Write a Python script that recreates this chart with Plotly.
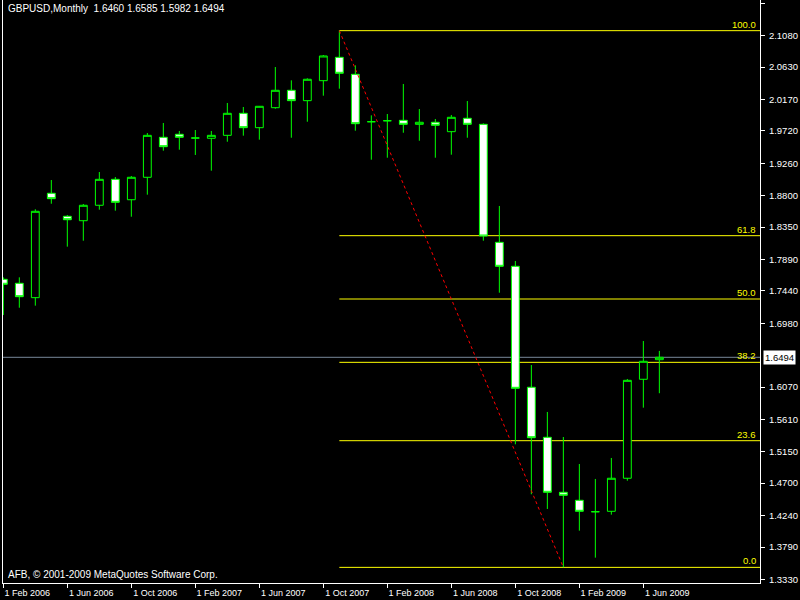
import plotly.graph_objects as go

months = ["Feb 2006","Mar 2006","Apr 2006","May 2006","Jun 2006","Jul 2006","Aug 2006","Sep 2006",
          "Oct 2006","Nov 2006","Dec 2006","Jan 2007","Feb 2007","Mar 2007","Apr 2007","May 2007",
          "Jun 2007","Jul 2007","Aug 2007","Sep 2007","Oct 2007","Nov 2007","Dec 2007","Jan 2008",
          "Feb 2008","Mar 2008","Apr 2008","May 2008","Jun 2008","Jul 2008","Aug 2008","Sep 2008",
          "Oct 2008","Nov 2008","Dec 2008","Jan 2009","Feb 2009","Mar 2009","Apr 2009","May 2009",
          "Jun 2009","Jul 2009"]

open_ = [1.7606, 1.7549, 1.7344, 1.8832, 1.8504, 1.8441, 1.8661, 1.9031, 1.8740, 1.9060, 1.9630,
         1.9673, 1.9620, 1.9616, 1.9658, 1.9972, 1.9767, 2.0052, 2.0300, 2.0152, 2.0437, 2.0770,
         2.0528, 1.9852, 1.9866, 1.9872, 1.9815, 1.9844, 1.9710, 1.9901, 1.9815, 1.8133, 1.7791,
         1.6067, 1.5354, 1.4570, 1.4456, 1.4293, 1.4299, 1.4770, 1.6181, 1.6460]
high = [1.7634, 1.7634, 1.8604, 1.9021, 1.8522, 1.8679, 1.9135, 1.9064, 1.9078, 1.9691, 1.9834,
        1.9720, 1.9734, 1.9720, 2.0119, 2.0062, 2.0076, 2.0632, 2.0442, 2.0471, 2.0803, 2.1150,
        2.0656, 1.9943, 1.9962, 2.0390, 2.0033, 1.9891, 1.9948, 2.0147, 1.9829, 1.8651, 1.7867,
        1.6384, 1.5715, 1.5358, 1.4973, 1.4760, 1.5059, 1.6185, 1.6726, 1.6585]
low = [1.7097, 1.7201, 1.7230, 1.8683, 1.8071, 1.8156, 1.8598, 1.8584, 1.8498, 1.8812, 1.9439,
       1.9453, 1.9378, 1.9154, 1.9567, 1.9653, 1.9596, 2.0037, 1.9624, 1.9852, 2.0223, 2.0323,
       1.9724, 1.9311, 1.9339, 1.9695, 1.9581, 1.9339, 1.9382, 1.9624, 1.8156, 1.7415, 1.5254,
       1.4542, 1.4332, 1.3500, 1.4023, 1.3638, 1.4251, 1.4735, 1.5776, 1.5982]
close = [1.7535, 1.7358, 1.8575, 1.8755, 1.8455, 1.8661, 1.9031, 1.8703, 1.9060, 1.9658, 1.9496,
         1.9630, 1.9620, 1.9658, 1.9972, 1.9767, 2.0072, 2.0300, 2.0152, 2.0457, 2.0789, 2.0542,
         1.9824, 1.9852, 1.9866, 1.9815, 1.9844, 1.9801, 1.9915, 1.9815, 1.8223, 1.7791, 1.6052,
         1.5348, 1.4570, 1.4527, 1.4299, 1.4293, 1.4770, 1.6166, 1.6437, 1.6494]

y_ticks = [1.3330, 1.3790, 1.4240, 1.4700, 1.5150, 1.5610, 1.6070, 1.6980, 1.7440, 1.7890,
           1.8350, 1.8800, 1.9260, 1.9720, 2.0170, 2.0630, 2.1080, 2.1540]
x_tick_idx = [0, 4, 8, 12, 16, 20, 24, 28, 32, 36, 40]
x_tick_text = ["1 Feb 2006", "1 Jun 2006", "1 Oct 2006", "1 Feb 2007", "1 Jun 2007", "1 Oct 2007",
               "1 Feb 2008", "1 Jun 2008", "1 Oct 2008", "1 Feb 2009", "1 Jun 2009"]
fib_levels = [0.0, 23.6, 38.2, 50.0, 61.8, 100.0]
fib_start_idx = 21   # Nov 2007 high
fib_end_idx = 35     # Jan 2009 low
title_text = "GBPUSD,Monthly  1.6460 1.6585 1.5982 1.6494"
copyright_text = "AFB, © 2001-2009 MetaQuotes Software Corp."

FONT = "Liberation Sans"
FS = 9.5
idx = list(range(len(months)))
x_range = [-0.02, 47.29]
y_range = [1.3277, 2.1587]

fig = go.Figure()
fig.add_trace(go.Candlestick(
    x=idx, open=open_, high=high, low=low, close=close,
    increasing=dict(line=dict(color="#00FF00", width=1), fillcolor="#000000"),
    decreasing=dict(line=dict(color="#00FF00", width=1), fillcolor="#FFFFFF"),
    whiskerwidth=0, hoverinfo="skip", showlegend=False,
))

fib_hi = high[fib_start_idx]
fib_lo = low[fib_end_idx]
shapes = []
annotations = []
for lvl in fib_levels:
    price = fib_lo + lvl / 100.0 * (fib_hi - fib_lo)
    shapes.append(dict(type="line", xref="x", yref="y", x0=fib_start_idx, x1=x_range[1],
                       y0=price, y1=price, line=dict(color="#FFFF00", width=1), layer="below"))
    annotations.append(dict(xref="paper", yref="y", x=1, y=price, xanchor="right", yanchor="bottom",
                            xshift=-2, yshift=-1, text=f"{lvl:.1f}", showarrow=False,
                            font=dict(family=FONT, size=FS, color="#FFFF00")))
# trend line
shapes.append(dict(type="line", xref="x", yref="y", x0=fib_start_idx, y0=fib_hi,
                   x1=fib_end_idx, y1=fib_lo, line=dict(color="#FF0000", width=1, dash="dot")))
# bid line
last = close[-1]
shapes.append(dict(type="line", xref="paper", yref="y", x0=0, x1=1, y0=last, y1=last,
                   line=dict(color="#778899", width=1), layer="below"))

annotations.append(dict(xref="paper", yref="y", x=1, y=last, xanchor="left", yanchor="middle",
                        xshift=3, text=f"{last:.4f}", showarrow=False, bgcolor="#FFFFFF",
                        borderpad=1, font=dict(family=FONT, size=FS, color="#000000")))
annotations.append(dict(xref="paper", yref="paper", x=0, y=1, xanchor="left", yanchor="top",
                        xshift=3, yshift=-1, text=title_text, showarrow=False,
                        font=dict(family=FONT, size=FS + 0.5, color="#FFFFFF")))
annotations.append(dict(xref="paper", yref="paper", x=0, y=0, xanchor="left", yanchor="bottom",
                        xshift=3, yshift=1, text=copyright_text, showarrow=False,
                        font=dict(family=FONT, size=FS + 0.5, color="#FFFFFF")))

fig.update_layout(
    width=800, height=600,
    paper_bgcolor="#000000", plot_bgcolor="#000000",
    margin=dict(l=3, r=40, t=0, b=17, pad=0, autoexpand=False),
    showlegend=False,
    shapes=shapes, annotations=annotations,
    boxgap=0.3,
    xaxis=dict(range=x_range, tickmode="array", tickvals=x_tick_idx, ticktext=x_tick_text,
               ticks="outside", ticklen=4, tickcolor="#FFFFFF", tickwidth=1, automargin=False,
               showgrid=False, zeroline=False, showline=True, linecolor="#FFFFFF", linewidth=1,
               tickfont=dict(family=FONT, size=9, color="#FFFFFF"),
               ticklabelshift=24, ticklabelstandoff=-3,
               rangeslider=dict(visible=False), fixedrange=True),
    yaxis=dict(range=y_range, side="right", tickmode="array", tickvals=y_ticks,
               ticktext=[f"{v:.4f}" for v in y_ticks], automargin=False,
               ticks="outside", ticklen=4, tickcolor="#FFFFFF", tickwidth=1,
               showgrid=False, zeroline=False, showline=True, mirror=True,
               linecolor="#FFFFFF", linewidth=1,
               tickfont=dict(family=FONT, size=FS, color="#FFFFFF"),
               ticklabelstandoff=2, fixedrange=True),
)

fig.write_html("out.html", config={"displayModeBar": False},
               post_script="document.body.style.margin='0';document.body.style.overflow='hidden';document.body.style.background='#000';")
